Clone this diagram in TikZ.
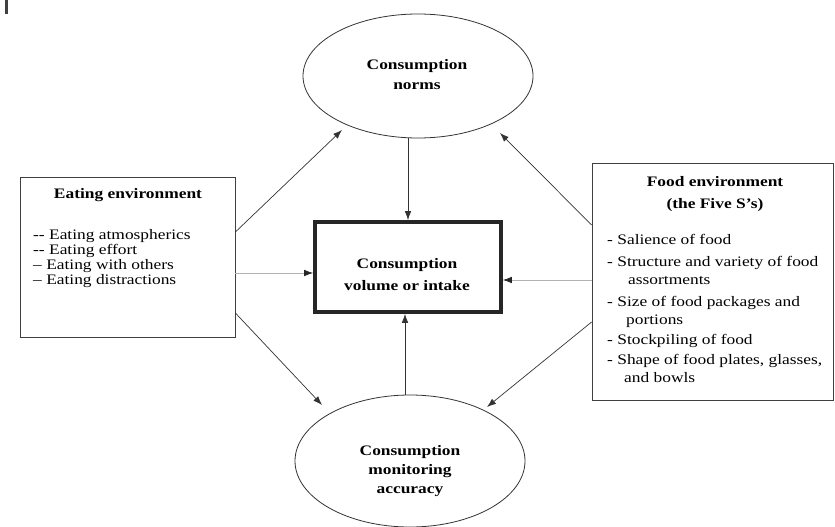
\documentclass[tikz,border=0pt]{standalone}
\usepackage{fontspec}
\setmainfont{Liberation Serif}[FakeStretch=1.2]
\usetikzlibrary{arrows.meta,shapes.geometric}
\begin{document}
\begin{tikzpicture}[x=1pt,y=-1pt,
  frame/.style={draw=black!75, line width=0.8pt, inner sep=0pt},
  ell/.style={ellipse, draw=black!80, line width=0.8pt, inner sep=0pt},
  arr/.style={-{Latex[length=9pt,width=6.5pt]}, line width=0.7pt, draw=black!80},
  garr/.style={-{Latex[length=9pt,width=6.5pt,color=black!85]}, line width=0.7pt, draw=black!30},
  ttl/.style={font=\bfseries\fontsize{14.5}{20}\selectfont, align=center, inner sep=0pt},
  itm/.style={font=\fontsize{14.5}{15}\selectfont, anchor=base west, inner sep=0pt}]
\useasboundingbox (0,0) rectangle (835,527);
\fill[black!75] (5,0) rectangle (8,14);
% boxes and ellipses
\node[frame, minimum width=215, minimum height=160] (lbox) at (127.5,257) {};
\node[frame, minimum width=241, minimum height=237] (rbox) at (712.5,281.5) {};
\node[ell, minimum width=230, minimum height=124] (norms) at (418,76) {};
\node[ell, minimum width=230, minimum height=132] (mon) at (410,461) {};
\node[draw=black!85, line width=3.6pt, minimum width=186, minimum height=90, inner sep=0pt] (vol) at (408,267) {};
% texts
\node[ttl] (normsT) at (417,75) {Consumption\\norms};
\node[ttl, font=\bfseries\fontsize{14.5}{19}\selectfont] (monT) at (410,471) {Consumption\\monitoring\\accuracy};
\node[ttl, font=\bfseries\fontsize{14.5}{22}\selectfont] (volT) at (407,275) {Consumption\\volume or intake};
\node[ttl] (lT) at (128,195) {Eating environment};
\node[itm] (l1) at (33,239) {-{}- Eating atmospherics};
\node[itm] (l2) at (33,254) {-{}- Eating effort};
\node[itm] (l3) at (33,269) {-- Eating with others};
\node[itm] (l4) at (33,284) {-- Eating distractions};
\node[ttl, font=\bfseries\fontsize{14.5}{22}\selectfont] (rT) at (715,194) {Food environment\\(the Five S's)};
\node[itm] (r1) at (607,244) {- Salience of food};
\node[itm] (r2) at (607,266) {- Structure and variety of food};
\node[itm] (r2b) at (628,284) {assortments};
\node[itm] (r3) at (607,306) {- Size of food packages and};
\node[itm] (r3b) at (626,324) {portions};
\node[itm] (r4) at (607,344) {- Stockpiling of food};
\node[itm] (r5) at (607,364) {- Shape of food plates, glasses,};
\node[itm] (r5b) at (624,382) {and bowls};
% connectors
\draw[arr] ([xshift=-10pt]norms.south) -- (vol.north);
\draw[arr] ([xshift=-5pt]mon.north) -- ([xshift=-3pt]vol.south);
\draw[arr] ([yshift=25pt]lbox.east) -- ([shift={(-76,54)}]norms.center);
\draw[garr] ([yshift=-16pt]lbox.east) -- ([yshift=-6pt]vol.west);
\draw[arr] ([yshift=-56pt]lbox.east) -- ([shift={(-88,-56)}]mon.center);
\draw[arr] ([yshift=56.5pt]rbox.west) -- ([shift={(82,57)}]norms.center);
\draw[garr] ([yshift=1.5pt]rbox.west) -- ([yshift=-13pt]vol.east);
\draw[arr] ([yshift=-40.5pt]rbox.west) -- ([shift={(77,-54)}]mon.center);
\end{tikzpicture}
\end{document}
